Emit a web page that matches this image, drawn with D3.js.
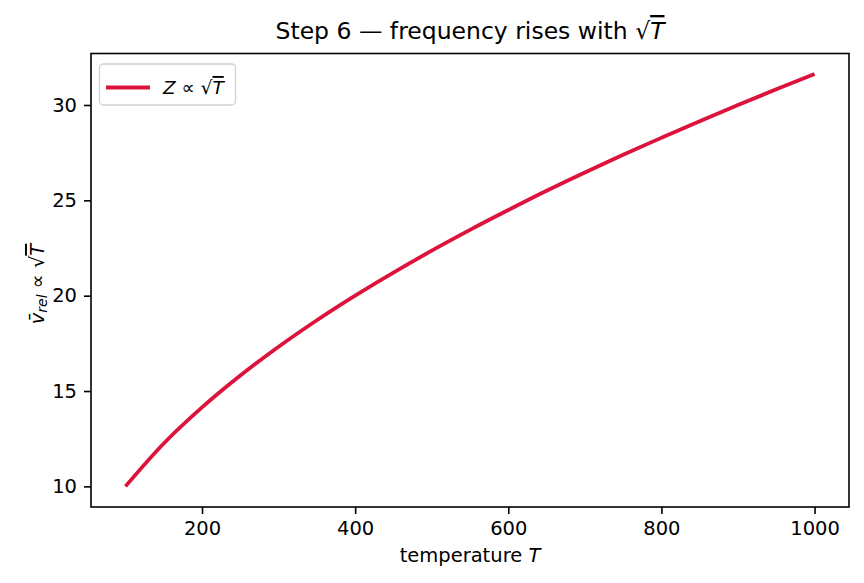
<!DOCTYPE html>
<html>
<head>
<meta charset="utf-8">
<script src="https://cdn.jsdelivr.net/npm/d3@7"></script>
<style>
  body { margin: 0; background: #fff; }
  svg text { font-family: "DejaVu Sans", sans-serif; fill: #000; }
</style>
</head>
<body>
<div id="chart"></div>
<script>
// ------------------------------ DATA ------------------------------
var temperatures = [100, 150, 200, 250, 300, 350, 400, 450, 500, 550, 600,
                    650, 700, 750, 800, 850, 900, 950, 1000];
var relSpeed = [10.00, 12.25, 14.14, 15.81, 17.32, 18.71, 20.00, 21.21, 22.36, 23.45, 24.49,
                25.50, 26.46, 27.39, 28.28, 29.15, 30.00, 30.82, 31.62];
var xTicks = [200, 400, 600, 800, 1000];
var yTicks = [10, 15, 20, 25, 30];

// ------------------------------ CONFIG ------------------------------
var width = 864, height = 583,
    plotLeft = 91, plotRight = 849, plotTop = 53.5, plotBottom = 507,
    fontSize = 19.5,
    lineColor = "#dc143c",
    lineWidth = 3.8;

var svg = d3.select("#chart").append("svg")
    .attr("width", width)
    .attr("height", height);

var x = d3.scaleLinear().domain([55, 1045]).range([plotLeft, plotRight]);
var y = d3.scaleLinear().domain([8.919, 32.70]).range([plotBottom, plotTop]);

// ------------------------------ AXES ------------------------------
var xAxis = svg.append("g")
    .attr("transform", "translate(0," + plotBottom + ")")
    .call(d3.axisBottom(x).tickValues(xTicks).tickSize(7).tickPadding(7).tickFormat(d3.format("d")));
var yAxis = svg.append("g")
    .attr("transform", "translate(" + plotLeft + ",0)")
    .call(d3.axisLeft(y).tickValues(yTicks).tickSize(7).tickPadding(7).tickFormat(d3.format("d")));

[xAxis, yAxis].forEach(function (g) {
    g.select(".domain").remove();
    g.selectAll("line").attr("stroke", "#000").attr("stroke-width", 1.6);
    g.selectAll("text").attr("font-size", fontSize + "px").attr("font-family", "DejaVu Sans");
});

// ------------------------------ LINE ------------------------------
var line = d3.line()
    .x(function (d, i) { return x(temperatures[i]); })
    .y(function (d) { return y(d); })
    .curve(d3.curveMonotoneX);

svg.append("path")
    .datum(relSpeed)
    .attr("d", line)
    .attr("fill", "none")
    .attr("stroke", lineColor)
    .attr("stroke-width", lineWidth);

// frame
svg.append("rect")
    .attr("x", plotLeft).attr("y", plotTop)
    .attr("width", plotRight - plotLeft).attr("height", plotBottom - plotTop)
    .attr("fill", "none").attr("stroke", "#000").attr("stroke-width", 1.6);

// ------------------------------ LABELS ------------------------------
var title = svg.append("text")
    .attr("x", (plotLeft + plotRight) / 2)
    .attr("y", 39)
    .attr("text-anchor", "middle")
    .attr("font-size", "23.5px");
title.append("tspan").text("Step 6 \u2014 frequency rises with \u221A");
title.append("tspan").attr("font-style", "italic").style("text-decoration", "overline").text("T");

var xLabel = svg.append("text")
    .attr("x", (plotLeft + plotRight) / 2)
    .attr("y", 562)
    .attr("text-anchor", "middle")
    .attr("font-size", fontSize + "px");
xLabel.append("tspan").text("temperature ");
xLabel.append("tspan").attr("font-style", "italic").text("T");

var yLabel = svg.append("text")
    .attr("transform", "translate(44," + 284 + ") rotate(-90)")
    .attr("text-anchor", "middle")
    .attr("font-size", fontSize + "px");
yLabel.append("tspan").attr("font-style", "italic").text("v\u0304");
yLabel.append("tspan").attr("font-style", "italic").attr("font-size", "14px").attr("dy", 3).text("rel");
yLabel.append("tspan").attr("dy", -3).text(" \u221D \u221A");
yLabel.append("tspan").attr("font-style", "italic").style("text-decoration", "overline").text("T");

// ------------------------------ LEGEND ------------------------------
var legend = svg.append("g");
legend.append("rect")
    .attr("x", 99.5).attr("y", 64).attr("width", 136).attr("height", 41)
    .attr("rx", 4).attr("fill", "#fff").attr("fill-opacity", 0.8)
    .attr("stroke", "#d0d0d0").attr("stroke-width", 1.3);
legend.append("line")
    .attr("x1", 106).attr("x2", 150).attr("y1", 87.5).attr("y2", 87.5)
    .attr("stroke", lineColor).attr("stroke-width", lineWidth);
var legendText = legend.append("text")
    .attr("x", 163).attr("y", 94)
    .attr("font-size", "18.5px");
legendText.append("tspan").attr("font-style", "italic").text("Z");
legendText.append("tspan").text(" \u221D \u221A");
legendText.append("tspan").attr("font-style", "italic").style("text-decoration", "overline").text("T");
</script>
</body>
</html>
